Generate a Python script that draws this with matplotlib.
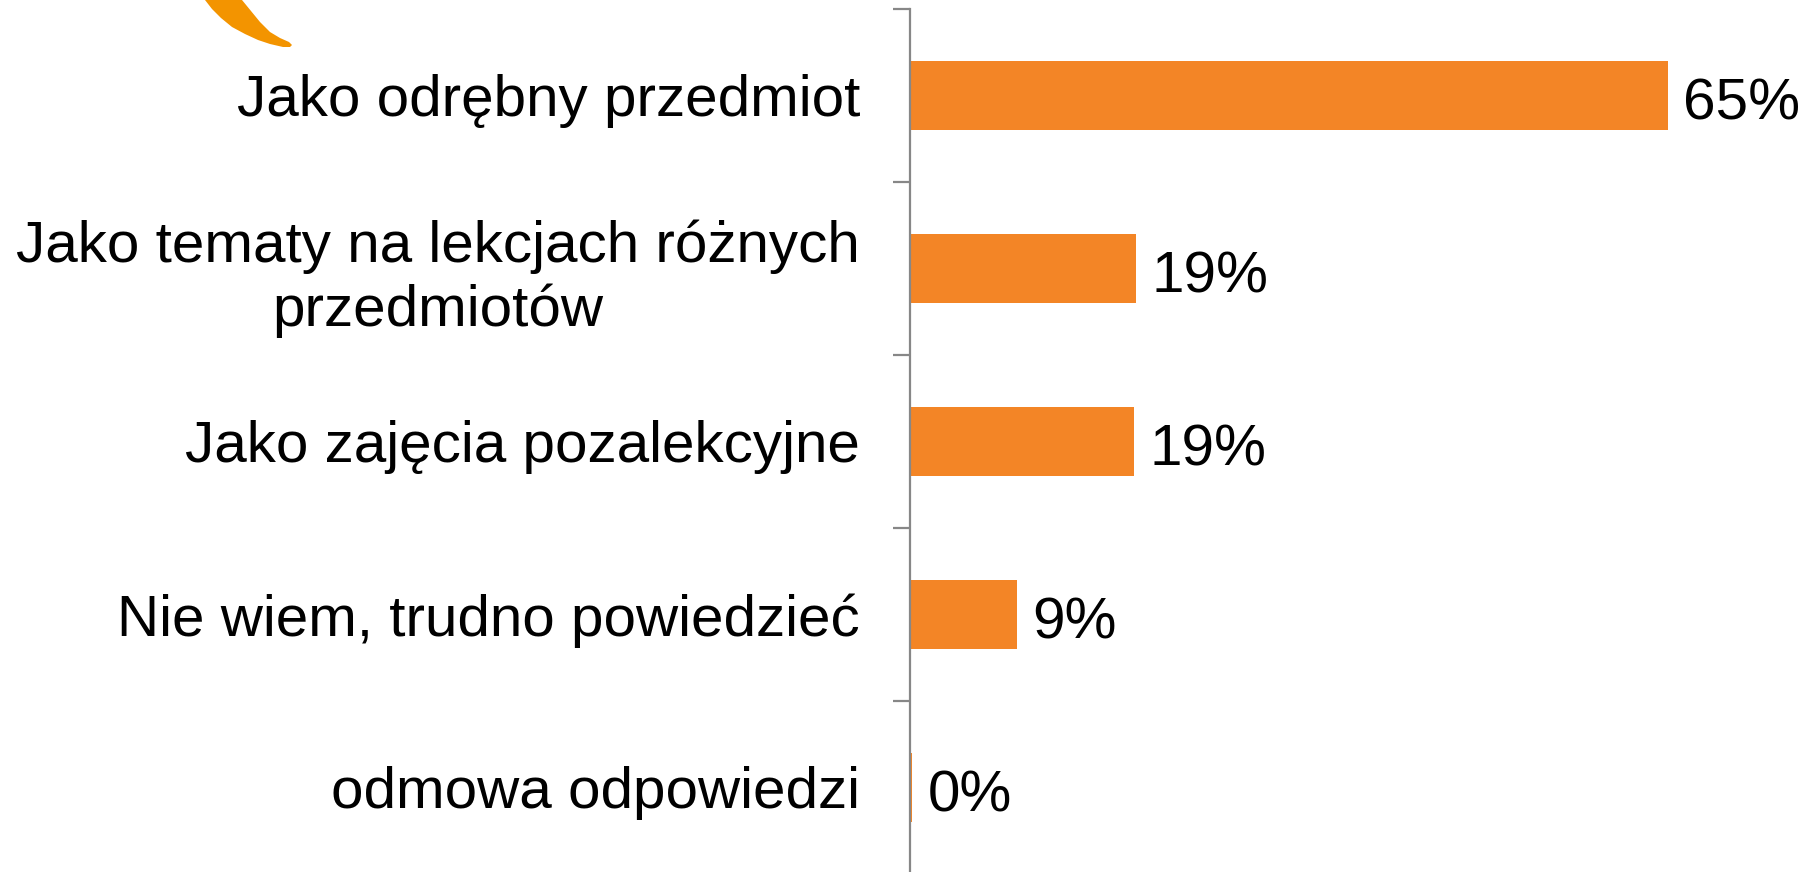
import matplotlib
matplotlib.use("Agg")
import matplotlib.pyplot as plt
from matplotlib.patches import Polygon

plt.rcParams['font.family'] = ['Liberation Sans', 'DejaVu Sans']

categories = [
    "Jako odrębny przedmiot",
    "Jako tematy na lekcjach różnych\nprzedmiotów",
    "Jako zajęcia pozalekcyjne",
    "Nie wiem, trudno powiedzieć",
    "odmowa odpowiedzi",
]
values = [65.0, 19.4, 19.2, 9.2, 0.2]
value_labels = ["65%", "19%", "19%", "9%", "0%"]

W, H = 1805, 872
fig = plt.figure(figsize=(W / 100, H / 100), dpi=100)

ax_left = 910 / W
ax_top = 1 - 9 / H
ax_bottom = 1 - 874 / H
ax = fig.add_axes([ax_left, ax_bottom, 1 - ax_left, ax_top - ax_bottom])

bar_color = "#F38526"
pos = list(range(len(categories)))
ax.barh(pos, values, height=0.4, color=bar_color, edgecolor="none")

for p, v, lab in zip(pos, values, value_labels):
    ax.annotate(lab, xy=(v, p), xytext=(11, -2), textcoords="offset points",
                ha="left", va="center_baseline", fontsize=42, color="black")

ax.set_xlim(0, 895 / 11.66)
ax.set_ylim(len(categories) - 0.5, -0.5)

for s in ["top", "right", "bottom"]:
    ax.spines[s].set_visible(False)
ax.spines["left"].set_color("#878787")
ax.spines["left"].set_linewidth(1.6)

ax.set_xticks([])
ax.set_yticks([i - 0.5 for i in range(len(categories) + 1)])
ax.set_yticklabels([])
ax.tick_params(axis="y", which="major", length=12, width=1.6, color="#878787", direction="out")
ax.set_yticks(pos, minor=True)
ax.set_yticklabels(categories, minor=True, fontsize=42, ha="right", multialignment="center")
ax.tick_params(axis="y", which="minor", length=0, pad=36)

# decorative orange swoosh (top-left)
pts = [(203, -5), (205, 0), (212, 9), (221, 18), (232, 27), (245, 34), (258, 40),
       (270, 44), (283, 47), (290, 47), (292, 45), (289, 42), (280, 38),
       (270, 32), (260, 22), (251, 11), (242, 0), (239, -5)]
fpts = [(x / W, 1 - y / H) for x, y in pts]
fig.patches.append(Polygon(fpts, closed=True, transform=fig.transFigure,
                           facecolor="#F39400", edgecolor="none"))

fig.savefig("out.png", dpi=100)
